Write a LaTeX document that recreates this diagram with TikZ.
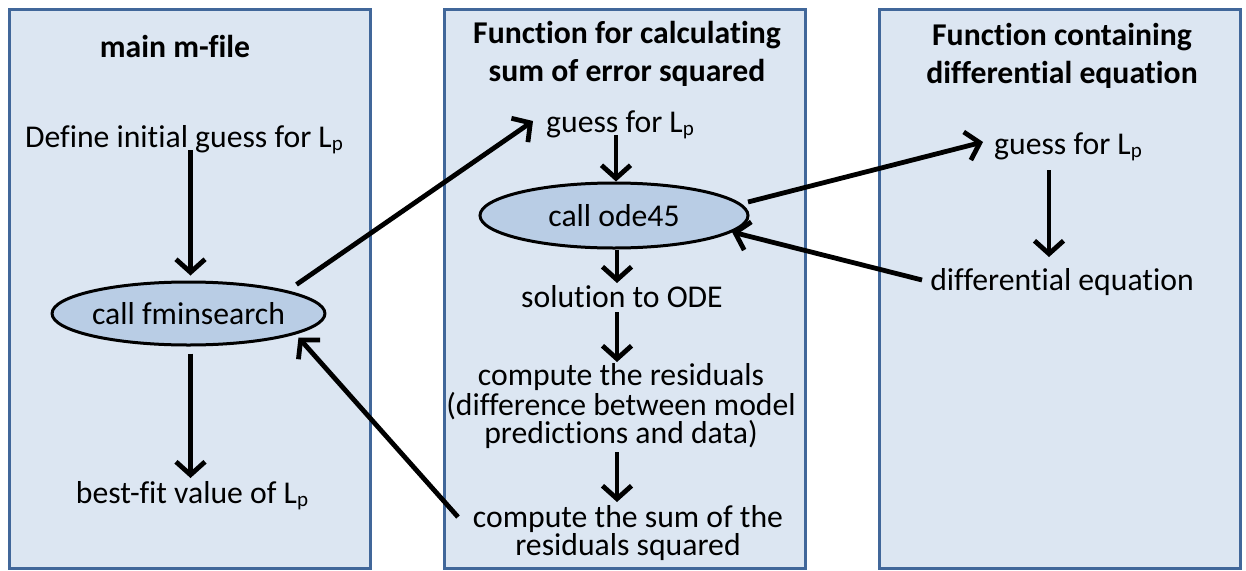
\documentclass[tikz,border=0pt]{standalone}
\usepackage{fontspec}
\setmainfont{Carlito}[Ligatures=NoCommon]
\usetikzlibrary{arrows.meta,shapes.geometric,calc}
\definecolor{panelfill}{HTML}{DCE6F2}
\definecolor{paneledge}{HTML}{41679A}
\definecolor{ellfill}{HTML}{B9CDE5}
\newcommand\mysubp{\raisebox{-3pt}{\fontsize{21}{21}\selectfont p}}
\tikzset{
  panel/.style={draw=paneledge,fill=panelfill,line width=3pt},
  txt/.style={font=\fontsize{31.7}{28}\selectfont,align=center,inner sep=0pt,anchor=base},
  ttl/.style={font=\fontsize{31.7}{38}\selectfont\bfseries,align=center,inner sep=0pt,anchor=base},
  ell/.style={ellipse,draw=black,fill=ellfill,line width=3pt,inner sep=0pt,font=\fontsize{31.7}{28}\selectfont},
  arr/.style={line width=4.8pt,-{Straight Barb[length=13pt,width=29pt,line width=4.8pt]}}
}
\begin{document}
\begin{tikzpicture}[x=1pt,y=-1pt]
\useasboundingbox (0,0) rectangle (1246,570);
\draw[panel] (9,9) rectangle (370,568);
\draw[panel] (444,9) rectangle (805,568);
\draw[panel] (879,9) rectangle (1240,568);

% panel 1 (multi-line nodes are placed at the baseline of their last line)
\node[ttl] (t1) at (175,57) {main m-file};
\node[txt] (def) at (184,147) {Define initial guess for L\mysubp};
\node[ell,minimum width=267pt,minimum height=63pt] (fmin) at (188.5,313.5) {call fminsearch};
\node[txt] (best) at (192,503) {best-fit value of L\mysubp};

% panel 2
\node[ttl] (t2) at (627,81) {Function for calculating\\sum of error squared};
\node[txt] (g2) at (620,132) {guess for L\mysubp};
\node[ell,minimum width=268pt,minimum height=65pt] (ode) at (614,215.5) {call ode45};
\node[txt] (sol) at (622,307) {solution to ODE};
\node[txt] (res) at (621,443) {compute the residuals\\(difference between model\\predictions and data)};
\node[txt] (sum) at (628,555) {compute the sum of the\\residuals squared};

% panel 3
\node[ttl] (t3) at (1062,83) {Function containing\\differential equation};
\node[txt] (g3) at (1068,154) {guess for L\mysubp};
\node[txt] (deq) at (1062,290) {differential equation};

% vertical arrows
\draw[arr] ($(fmin.north |- def.base)+(2,3)$) -- ($(fmin.north)+(2,-5)$);
\draw[arr] ($(fmin.south)+(2,7)$) -- ($(fmin.south |- best.base)+(2,-25)$);
\draw[arr] ($(ode.north |- g2.base)+(2,3)$) -- ($(ode.north)+(2,0)$);
\draw[arr] ($(ode.south)+(3,0)$) -- ($(ode.south |- sol.base)+(3,-24)$);
\draw[arr] ($(ode.south |- sol.base)+(3,5)$) -- ($(ode.south |- res.base)+(3,-81)$);
\draw[arr] ($(ode.south |- res.base)+(3,9)$) -- ($(ode.south |- sum.base)+(3,-53)$);
\draw[arr] ($(g3.base)+(-19,16)$) -- ($(g3.base |- deq.base)+(-19,-33)$);

% cross arrows
\draw[arr] ($(fmin.center)+(108,-29)$) -- ($(g2.base)+(-87,-11)$);
\draw[arr] ($(sum.base)+(-170,-38)$) -- ($(fmin.center)+(110,24)$);
\draw[arr] ($(ode.center)+(134,-13.5)$) -- ($(g3.base)+(-85,-12)$);
\draw[arr] ($(deq.base)+(-140,-10)$) -- ($(ode.center)+(118,16.5)$);
\end{tikzpicture}
\end{document}
